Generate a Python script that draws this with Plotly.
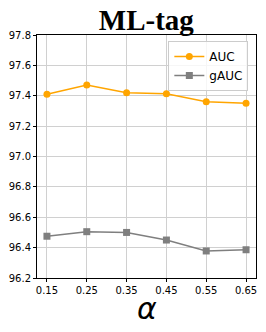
import plotly.graph_objects as go

alpha = [0.15, 0.25, 0.35, 0.45, 0.55, 0.65]
auc = [97.41, 97.47, 97.42, 97.413, 97.36, 97.35]
gauc = [96.475, 96.505, 96.50, 96.45, 96.378, 96.386]
x_ticks = [0.15, 0.25, 0.35, 0.45, 0.55, 0.65]
y_ticks = [96.2, 96.4, 96.6, 96.8, 97.0, 97.2, 97.4, 97.6, 97.8]

fig = go.Figure()
fig.add_trace(go.Scatter(x=alpha, y=auc, name="AUC", mode="lines+markers",
                         line=dict(color="#FFA500", width=1.5),
                         marker=dict(symbol="circle", size=7, color="#FFA500")))
fig.add_trace(go.Scatter(x=alpha, y=gauc, name="gAUC", mode="lines+markers",
                         line=dict(color="#7F7F7F", width=1.5),
                         marker=dict(symbol="square", size=7, color="#7F7F7F")))

fig.add_annotation(text="<i>α</i>", xref="paper", yref="paper", x=0.5, y=-0.125,
                   xanchor="center", yanchor="middle", showarrow=False,
                   font=dict(family="DejaVu Sans", size=30, color="black"))

fig.update_layout(
    width=266, height=332,
    margin=dict(l=37, r=10, t=35, b=54, autoexpand=False),
    paper_bgcolor="white", plot_bgcolor="white",
    font=dict(family="DejaVu Sans", size=10, color="black"),
    title=dict(text="<b>ML-tag</b>", x=0.55, xanchor="center", y=0.94, yanchor="middle",
               font=dict(family="Liberation Serif", size=29, color="black")),
    showlegend=True,
    legend=dict(x=0.965, y=0.975, xanchor="right", yanchor="top",
                bgcolor="rgba(255,255,255,0.8)", bordercolor="#CCCCCC", borderwidth=1,
                font=dict(family="DejaVu Sans", size=12)),
    xaxis=dict(range=[0.125, 0.675], tickvals=x_ticks, ticktext=[f"{v:.2f}" for v in x_ticks],
               showgrid=True, gridcolor="#D0D0D0", gridwidth=1, automargin=False,
               showline=True, linecolor="black", linewidth=1, mirror=True,
               ticks="outside", ticklen=3, tickcolor="black", zeroline=False),
    yaxis=dict(range=[96.2, 97.8], tickvals=y_ticks, ticktext=[f"{v:.1f}" for v in y_ticks],
               showgrid=True, gridcolor="#D0D0D0", gridwidth=1, automargin=False,
               showline=True, linecolor="black", linewidth=1, mirror=True,
               ticks="outside", ticklen=3, tickcolor="black", zeroline=False),
)
fig.write_html("out.html", config={"displayModeBar": False},
               post_script="document.body.style.margin='0';document.body.style.padding='0';")
